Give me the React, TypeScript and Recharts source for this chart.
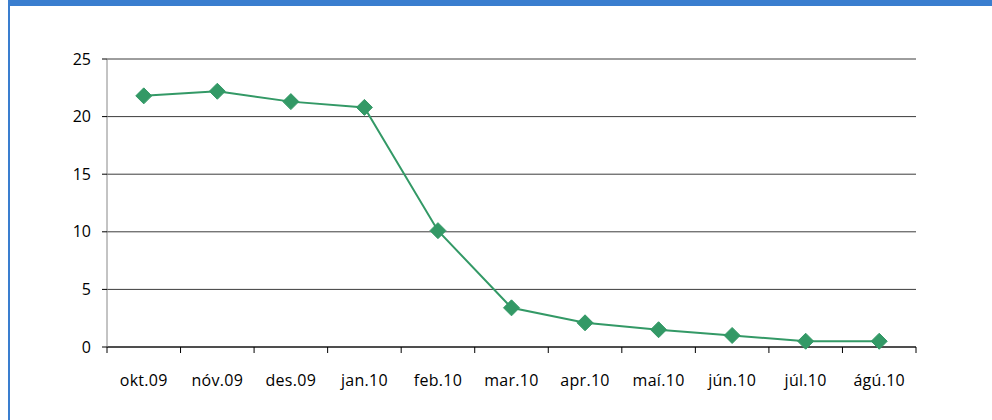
import React from 'react';
import { LineChart, Line, XAxis, YAxis, CartesianGrid } from 'recharts';

const months = ['okt.09', 'nóv.09', 'des.09', 'jan.10', 'feb.10', 'mar.10', 'apr.10', 'maí.10', 'jún.10', 'júl.10', 'ágú.10'];
const values = [21.8, 22.2, 21.3, 20.8, 10.1, 3.4, 2.1, 1.5, 1.0, 0.5, 0.5];
const yTicks = [0, 5, 10, 15, 20, 25];

const data = months.map((month, i) => ({ month, value: values[i] }));

const W = 992;
const H = 420;
const PLOT_LEFT = 107;
const PLOT_RIGHT = 916;
const PLOT_TOP = 59;
const PLOT_BOTTOM = 347;
const STEP = (PLOT_RIGHT - PLOT_LEFT) / months.length;
const GREEN = '#339966';
const FONT = '"Open Sans", sans-serif';

const MonthTick = (props: any) => {
  const { x, payload, index } = props;
  const left = x - STEP / 2;
  return (
    <g>
      <line x1={left} y1={PLOT_BOTTOM} x2={left} y2={PLOT_BOTTOM + 6} stroke="#000" />
      {index === months.length - 1 && (
        <line x1={x + STEP / 2} y1={PLOT_BOTTOM} x2={x + STEP / 2} y2={PLOT_BOTTOM + 6} stroke="#000" />
      )}
      <text x={x} y={386} textAnchor="middle" fontSize={16} letterSpacing={0.3} fontFamily={FONT} fill="#000">
        {payload.value}
      </text>
    </g>
  );
};

const Diamond = (props: any) => {
  const { cx, cy, index } = props;
  if (cx == null || cy == null) return <g key={index} />;
  const r = 8;
  return (
    <path
      key={index}
      d={`M${cx},${cy - r} L${cx + r},${cy} L${cx},${cy + r} L${cx - r},${cy} Z`}
      fill={GREEN}
      stroke={GREEN}
    />
  );
};

const App: React.FC = () => {
  return (
    <div style={{ position: 'absolute', left: 0, top: 0, width: W, height: H, background: '#fff', overflow: 'hidden' }}>
      <div style={{ position: 'absolute', left: 8, top: 0, width: W - 8, height: 6, background: '#3a7ecf' }} />
      <div style={{ position: 'absolute', left: 8, top: 0, width: 2, height: H, background: '#3a7ecf' }} />
      <div style={{ position: 'absolute', left: 0, top: 0 }}>
        <LineChart
          width={W}
          height={H}
          data={data}
          margin={{ top: PLOT_TOP, right: W - PLOT_RIGHT, left: 0, bottom: H - PLOT_BOTTOM - 40 }}
        >
          <CartesianGrid vertical={false} stroke="#3c3c3c" />
          <XAxis
            dataKey="month"
            interval={0}
            height={40}
            padding={{ left: STEP / 2, right: STEP / 2 }}
            tickLine={false}
            axisLine={{ stroke: '#000' }}
            tick={<MonthTick />}
          />
          <YAxis
            width={PLOT_LEFT}
            domain={[0, 25]}
            ticks={yTicks}
            interval={0}
            tickSize={5}
            tickMargin={11}
            axisLine={{ stroke: '#888' }}
            tickLine={{ stroke: '#000' }}
            tick={{ fontSize: 16, fontFamily: FONT, fill: '#000' }}
          />
          <Line
            type="linear"
            dataKey="value"
            stroke={GREEN}
            strokeWidth={2}
            dot={<Diamond />}
            activeDot={false}
            isAnimationActive={false}
          />
        </LineChart>
      </div>
    </div>
  );
};

export default App;
